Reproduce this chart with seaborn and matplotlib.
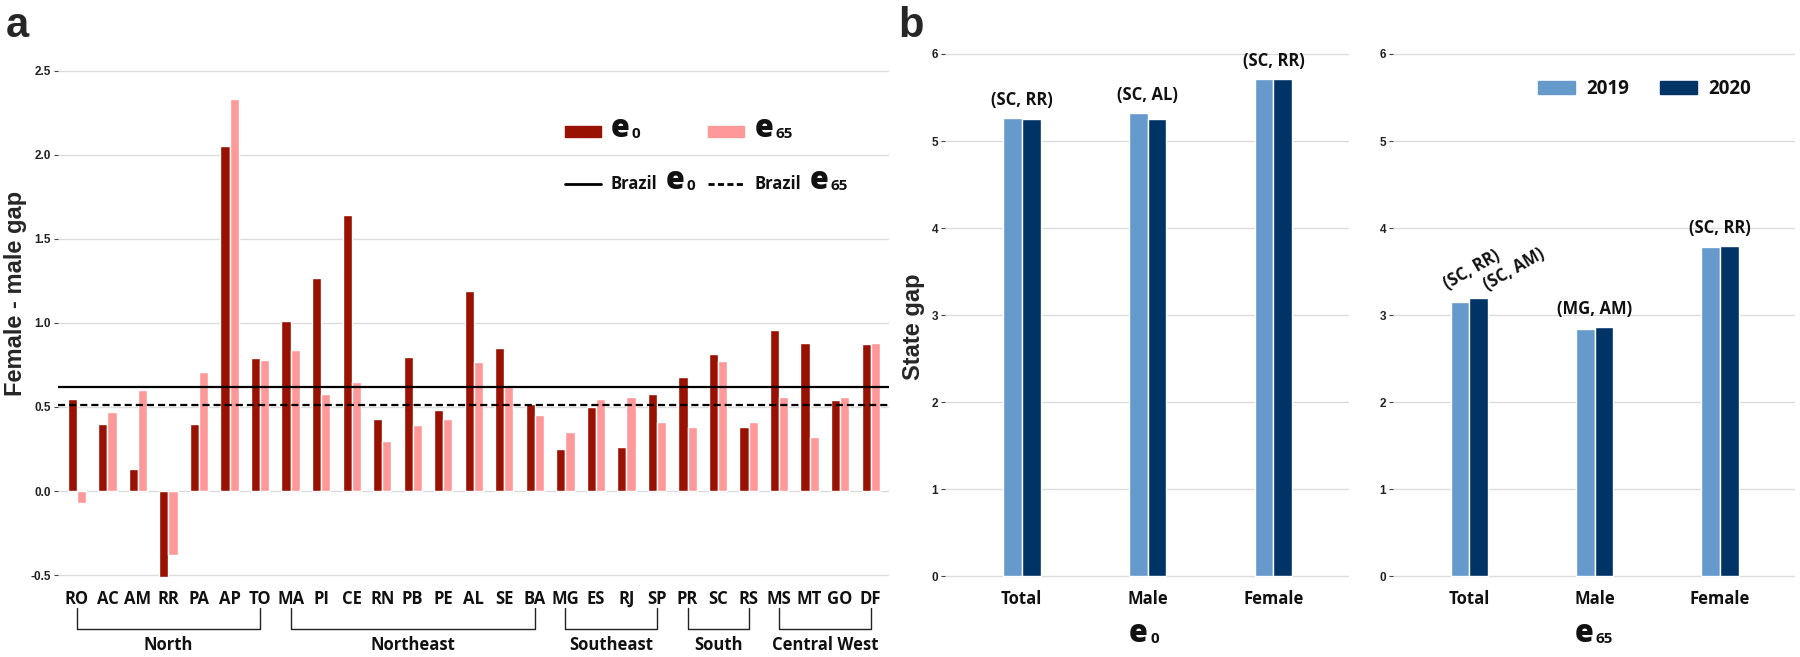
import numpy as np
import pandas as pd
import matplotlib
matplotlib.use('Agg')
import matplotlib.pyplot as plt
import matplotlib.transforms as mtransforms
from matplotlib.patches import Patch
from matplotlib.lines import Line2D
import seaborn as sns

# ---- panel a: female - male gap by state ----
states = ['RO', 'AC', 'AM', 'RR', 'PA', 'AP', 'TO', 'MA', 'PI', 'CE', 'RN', 'PB', 'PE', 'AL',
          'SE', 'BA', 'MG', 'ES', 'RJ', 'SP', 'PR', 'SC', 'RS', 'MS', 'MT', 'GO', 'DF']
gap_e0 = [0.55, 0.40, 0.13, -0.51, 0.40, 2.05, 0.79, 1.01, 1.27, 1.64, 0.43, 0.80, 0.48, 1.19,
          0.85, 0.52, 0.25, 0.50, 0.26, 0.58, 0.68, 0.815, 0.38, 0.96, 0.88, 0.54, 0.875]
gap_e65 = [-0.07, 0.47, 0.60, -0.38, 0.71, 2.33, 0.78, 0.84, 0.58, 0.65, 0.30, 0.39, 0.43, 0.765,
           0.62, 0.45, 0.35, 0.55, 0.56, 0.41, 0.38, 0.775, 0.41, 0.56, 0.32, 0.56, 0.88]
regions = ['North', 'Northeast', 'Southeast', 'South', 'Central West']
region_first = ['RO', 'MA', 'MG', 'PR', 'MS']
region_last = ['TO', 'BA', 'SP', 'RS', 'DF']
brazil_e0 = 0.62
brazil_e65 = 0.51
yticks_a = [-0.5, 0.0, 0.5, 1.0, 1.5, 2.0, 2.5]

# ---- panel b: state gap ----
sexes = ['Total', 'Male', 'Female']
years = ['2019', '2020']
e0_2019 = [5.26, 5.32, 5.71]
e0_2020 = [5.25, 5.25, 5.71]
e65_2019 = [3.15, 2.84, 3.78]
e65_2020 = [3.19, 2.86, 3.79]
e0_lab_2019 = ['(SC, RR)', '(SC, AL)', '(SC, RR)']
e0_lab_2020 = ['(SC, RR)', '(SC, AL)', '(SC, RR)']
e65_lab_2019 = ['(SC, RR)', '(MG, AM)', '(SC, RR)']
e65_lab_2020 = ['(SC, AM)', '(MG, AM)', '(SC, RR)']
yticks_b = [0, 1, 2, 3, 4, 5, 6]

red_dark = '#991100'
red_light = '#FF9999'
blue_light = '#6699CC'
blue_dark = '#003366'

sns.set_theme(style='white')
plt.rcParams['font.family'] = ['Open Sans', 'DejaVu Sans']

E_SIZE = 22      # the big "e" of e0 / e65
SUB_SIZE = 11    # its index


def glued(ax, anchor, text, anchor_size, size, gap, weight='bold'):
    # text placed right after another text, on the same baseline
    dy = 0.24 * (anchor_size - size)
    return ax.annotate(text, xy=(1, 0), xycoords=anchor, xytext=(gap, dy),
                       textcoords='offset points', ha='left', va='bottom',
                       fontsize=size, fontweight=weight, color='#111111',
                       annotation_clip=False, zorder=6)


def add_index(ax, anchor, sub):
    return glued(ax, anchor, sub, E_SIZE, SUB_SIZE, 1.6)


def add_e(ax, anchor, sub, anchor_size):
    e = glued(ax, anchor, 'e', anchor_size, E_SIZE, 6, weight=800)
    add_index(ax, e, sub)


def style_axis(ax, yticks, fmt):
    for s in ax.spines.values():
        s.set_visible(False)
    ax.set_yticks(yticks)
    ax.set_yticklabels([fmt(t) for t in yticks], family='Liberation Sans',
                       fontweight='bold', fontsize=8.5, color='#222222')
    ax.yaxis.grid(True, color='#dcdcdc', lw=1)
    ax.xaxis.grid(False)
    ax.set_axisbelow(True)
    ax.tick_params(axis='y', length=3, width=0.8, color='#444444', pad=2, left=True)
    ax.tick_params(axis='x', length=0, pad=8)
    ax.set_xlabel('')
    ax.set_ylabel('')


fig = plt.figure(figsize=(18, 6.57), dpi=100)
ax_a = fig.add_axes([0.0322, 0.1187, 0.4617, 0.8052])
ax_b1 = fig.add_axes([0.525, 0.1187, 0.2244, 0.8052])
ax_b2 = fig.add_axes([0.7739, 0.1187, 0.2233, 0.8052])

# ---- panel a ----
df_a = pd.DataFrame({'state': states * 2,
                     'measure': ['e0'] * len(states) + ['e65'] * len(states),
                     'gap': gap_e0 + gap_e65})
sns.barplot(df_a, x='state', y='gap', hue='measure', palette=[red_dark, red_light],
            width=0.6, saturation=1, errorbar=None, legend=False, ax=ax_a)
ax_a.axhline(brazil_e0, color='black', lw=1.6)
ax_a.axhline(brazil_e65, color='black', lw=1.6, ls=(0, (3.2, 1.8)))
style_axis(ax_a, yticks_a, lambda t: f'{t:.1f}')
ax_a.set_xlim(-0.62, len(states) - 0.4)
ax_a.set_ylim(-0.5235, 2.6234)
ax_a.set_xticks(range(len(states)))
ax_a.set_xticklabels(states, fontsize=12, fontweight='bold', color='#111111')
ax_a.text(-0.0505, 0.539, 'Female - male gap', transform=ax_a.transAxes, rotation=90,
          ha='center', va='center', fontsize=17, fontweight='bold', family='Liberation Sans')

# region brackets under the state labels
trans = mtransforms.blended_transform_factory(ax_a.transData, ax_a.transAxes)
for name, first, last in zip(regions, region_first, region_last):
    x0 = states.index(first)
    x1 = states.index(last)
    ax_a.plot([x0, x0, x1, x1], [-0.0548, -0.0945, -0.0945, -0.0548], transform=trans,
              color='#222222', lw=1, clip_on=False)
    ax_a.text((x0 + x1) / 2, -0.1248, name, transform=trans, ha='center', va='center',
              fontsize=12, fontweight='bold', color='#111111')

LEG_SIZE = 12
handles = [Patch(color=red_dark), Line2D([], [], color='black', lw=2),
           Patch(color=red_light), Line2D([], [], color='black', lw=2, ls=(0, (2.2, 1.2)))]
labels = ['e', 'Brazil', 'e', 'Brazil']
leg = ax_a.legend(handles, labels, ncol=2, loc='center left', bbox_to_anchor=(0.61, 0.805),
                  frameon=False, fontsize=LEG_SIZE, handlelength=2.16, handleheight=0.66,
                  handletextpad=0.6, columnspacing=3.05, labelspacing=1.81,
                  borderpad=0, borderaxespad=0)
texts = leg.get_texts()
for t in texts:
    t.set_fontweight('bold')
    t.set_color('#111111')
for t in (texts[0], texts[2]):
    t.set_fontsize(E_SIZE)
    t.set_fontweight(800)
add_index(ax_a, texts[0], '0')
add_index(ax_a, texts[2], '65')
add_e(ax_a, texts[1], '0', LEG_SIZE)
add_e(ax_a, texts[3], '65', LEG_SIZE)


# ---- panel b ----
def pair_labels(ax, v19, v20, lab19, lab20):
    for i in range(len(sexes)):
        if lab19[i] == lab20[i]:
            ax.text(i, max(v19[i], v20[i]) + 0.21, lab19[i], ha='center', va='center',
                    fontsize=12, fontweight='bold', color='#111111')
        else:
            ax.text(i - 0.16, v19[i] + 0.11, lab19[i], rotation=30, rotation_mode='anchor',
                    ha='left', va='bottom', fontsize=12, fontweight='bold', color='#111111')
            ax.text(i + 0.16, v20[i] + 0.05, lab20[i], rotation=30, rotation_mode='anchor',
                    ha='left', va='bottom', fontsize=12, fontweight='bold', color='#111111')


for ax, v19, v20, l19, l20, sub, xe in [
        (ax_b1, e0_2019, e0_2020, e0_lab_2019, e0_lab_2020, '0', 0.479),
        (ax_b2, e65_2019, e65_2020, e65_lab_2019, e65_lab_2020, '65', 0.475)]:
    df_b = pd.DataFrame({'sex': sexes * 2, 'year': [years[0]] * 3 + [years[1]] * 3,
                         'gap': v19 + v20})
    sns.barplot(df_b, x='sex', y='gap', hue='year', palette=[blue_light, blue_dark],
                width=0.3, saturation=1, errorbar=None, legend=False, ax=ax)
    style_axis(ax, yticks_b, lambda t: f'{t:d}')
    ax.set_xlim(-0.61, 2.6)
    ax.set_ylim(-0.0345, 6.046)
    ax.set_xticks(range(len(sexes)))
    ax.set_xticklabels(sexes, fontsize=12, fontweight='bold', color='#111111')
    pair_labels(ax, v19, v20, l19, l20)
    e = ax.text(xe, -0.104, 'e', transform=ax.transAxes, ha='center', va='center',
                fontsize=E_SIZE, fontweight=800, color='#111111')
    add_index(ax, e, sub)

ax_b1.text(-0.079, 0.477, 'State gap', transform=ax_b1.transAxes, rotation=90,
           ha='center', va='center', fontsize=17, fontweight='bold', family='Liberation Sans')

leg_b = ax_b2.legend([Patch(color=blue_light), Patch(color=blue_dark)], years, ncol=2,
                     loc='center left', bbox_to_anchor=(0.361, 0.926), frameon=False,
                     fontsize=13.5, handlelength=1.97, handleheight=0.67,
                     handletextpad=0.59, columnspacing=1.65, borderpad=0, borderaxespad=0)
for t in leg_b.get_texts():
    t.set_fontweight('bold')
    t.set_color('#111111')

fig.text(0.003, 1 - 37 / 657, 'a', fontsize=30, fontweight='bold', family='Liberation Sans',
         va='baseline')
fig.text(0.499, 1 - 37 / 657, 'b', fontsize=30, fontweight='bold', family='Liberation Sans',
         va='baseline')

fig.canvas.draw()
fig.savefig('out.png', dpi=100, facecolor='white')
